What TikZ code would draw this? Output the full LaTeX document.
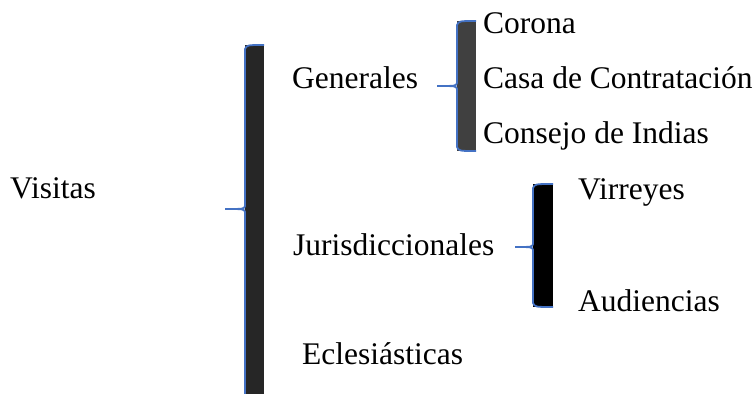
\documentclass[tikz,border=0pt]{standalone}
\usepackage{fontspec}
\setmainfont{Liberation Serif}

\definecolor{braceblue}{HTML}{4472C4}
\definecolor{darkfill}{HTML}{262626}
\definecolor{midfill}{HTML}{404040}

% left brace: line x, fill right, top, bottom, tip x, tip y, fill colour
\newcommand{\wordbrace}[7]{%
  \fill[#7] (#1,#3) rectangle (#2,#4);
  \draw[braceblue, line width=1.8pt]
    (#2,#3) .. controls (#1+2,#3) .. (#1,#3+4) -- (#1,#6-3)
    .. controls (#1-1,#6) .. (#5,#6);
  \draw[braceblue, line width=1.8pt]
    (#5,#6) .. controls (#1-1,#6) .. (#1,#6+3) -- (#1,#4-4)
    .. controls (#1+2,#4) .. (#2,#4);
}

\begin{document}
\begin{tikzpicture}[x=1pt, y=-1pt,
    every node/.style={anchor=base west, inner sep=0pt, font=\fontsize{31.5}{38}\selectfont}]
    \useasboundingbox (0,0) rectangle (756,394);

    % Braces
    \wordbrace{245}{264}{45}{400}{225}{209}{darkfill}
    \wordbrace{457}{476}{21}{151}{437}{86}{midfill}
    \wordbrace{533}{553}{184}{307}{515}{247}{black}

    % Labels
    \node (visitas) at (10,198) {Visitas};
    \node (generales) at (292,88) {Generales};
    \node (jurisd) at (293,255) {Jurisdiccionales};
    \node (eclesiasticas) at (302,364) {Eclesiásticas};

    \node (corona) at (483,33) {Corona};
    \node (casa) at (483,88) {Casa de Contratación};
    \node (consejo) at (483,143) {Consejo de Indias};

    \node (virreyes) at (578,199) {Virreyes};
    \node (audiencias) at (578,311) {Audiencias};
\end{tikzpicture}
\end{document}
